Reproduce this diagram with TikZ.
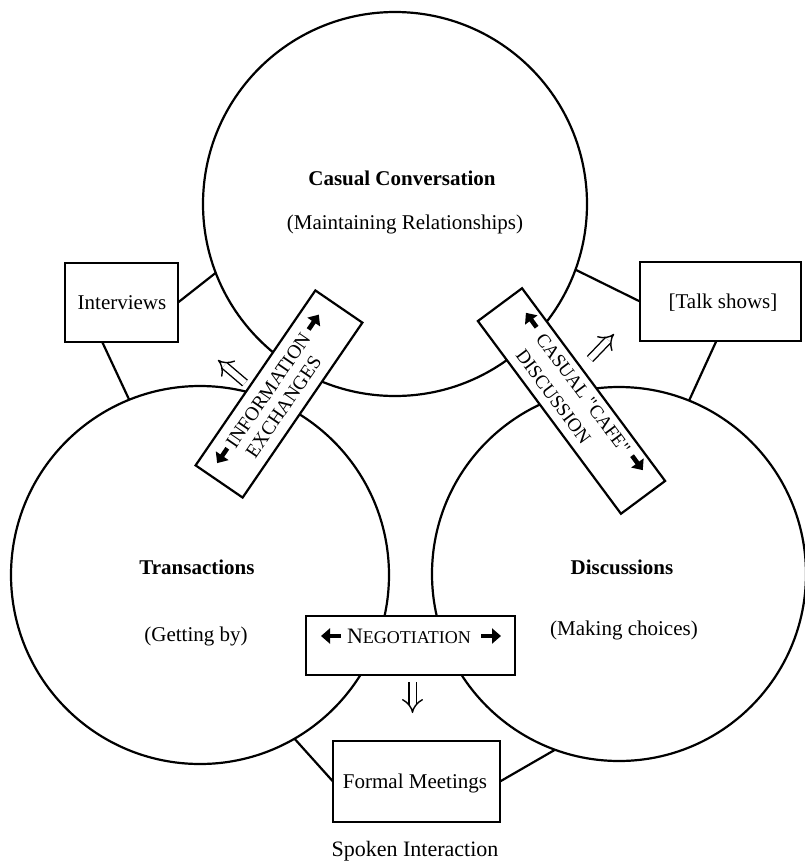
\documentclass[tikz,border=0pt]{standalone}
\usepackage{fontspec}
\setmainfont{Liberation Serif}
\usetikzlibrary{arrows.meta,calc}
\begin{document}
\begin{tikzpicture}[x=1pt,y=1pt,
  circ/.style={draw, circle, line width=2.2pt, inner sep=0pt, outer sep=0pt},
  box/.style={draw, rectangle, line width=2.2pt, fill=white, inner sep=0pt, outer sep=0pt},
  link/.style={line width=2.2pt},
  txt/.style={font=\fontsize{21}{24}\selectfont, inner sep=0pt},
  btxt/.style={font=\fontsize{21}{24}\selectfont\bfseries, inner sep=0pt},
  bantxt/.style={font=\fontsize{19.5}{23}\selectfont, inner sep=0pt},
  dblarrow/.style={double, double distance=6pt, line width=1.4pt, -{Implies}},
  fatarrow/.style={line width=4.6pt, -{Triangle[length=9pt,width=15pt]}},
]
\useasboundingbox (0,0) rectangle (805,-863);

% circles
\node[circ, minimum size=384pt] (topc) at (395,-204) {};
\node[circ, minimum size=378pt] (leftc) at (200,-575) {};
\node[circ, minimum size=374pt] (rightc) at (619,-574) {};

% circle texts
\node[btxt] (cc) at (402,-178) {Casual Conversation};
\node[txt] (mr) at (405,-224) {(Maintaining Relationships)};
\node[btxt] (tr) at (197,-567) {Transactions};
\node[txt] (gb) at (196,-636) {(Getting by)};
\node[btxt] (di) at (622,-567) {Discussions};
\node[txt] (mc) at (624,-630) {(Making choices)};

% outer boxes
\node[box, minimum width=113pt, minimum height=79pt] (interviews) at (121.5,-302.5) {};
\node[txt] (intt) at (122,-303) {Interviews};
\node[box, minimum width=161pt, minimum height=79pt] (talk) at (720.5,-301.5) {};
\node[txt] (talkt) at (723,-303) {[Talk shows]};
\node[box, minimum width=167pt, minimum height=81pt] (formal) at (416.5,-781.5) {};
\node[txt] (formt) at (415,-783) {Formal Meetings};

% links
\draw[link] (interviews.east) -- (topc.201.7);
\draw[link] (interviews.244) -- (leftc.112);
\draw[link] (talk.west) -- (topc.340);
\draw[link] (talk.264) -- (rightc.68);
\draw[link] (formal.west) -- (leftc.-60);
\draw[link] (formal.east) -- (rightc.250);

% information exchanges banner
\begin{scope}[shift={(279,-394)}, rotate=55.6, transform shape]
  \node[box, minimum width=212pt, minimum height=57pt] (info) at (0,0) {};
  \node[bantxt] (info1) at (-3,11) {INFORMATION};
  \node[bantxt] (info2) at (-8,-11) {EXCHANGES};
  \coordinate (infoL1) at (-74,12); \coordinate (infoL2) at (-92,12);
  \coordinate (infoR1) at (70,12);  \coordinate (infoR2) at (88,12);
  \draw[fatarrow] (infoL1) -- (infoL2);
  \draw[fatarrow] (infoR1) -- (infoR2);
\end{scope}

% casual cafe discussion banner
\begin{scope}[shift={(571.5,-401)}, rotate=-53.4, transform shape]
  \node[box, minimum width=240pt, minimum height=55pt] (cafe) at (0,0) {};
  \node[bantxt, font=\fontsize{19}{23}\selectfont] (cafe1) at (1,14) {CASUAL \textquotedbl CAFE\textquotedbl};
  \node[bantxt, font=\fontsize{19}{23}\selectfont] (cafe2) at (-14,-12) {DISCUSSION};
  \coordinate (cafeL1) at (-80,16); \coordinate (cafeL2) at (-98,16);
  \coordinate (cafeR1) at (80,16);  \coordinate (cafeR2) at (98,16);
  \draw[fatarrow] (cafeL1) -- (cafeL2);
  \draw[fatarrow] (cafeR1) -- (cafeR2);
\end{scope}

% negotiation box
\node[box, minimum width=209pt, minimum height=59pt] (neg) at (410.5,-645.5) {};
\node[inner sep=0pt] (negt) at (409,-636) {\fontsize{22}{24}\selectfont N\fontsize{18}{20}\selectfont EGOTIATION};
\coordinate (negL1) at (341,-636); \coordinate (negL2) at (321,-636);
\coordinate (negR1) at (481,-636); \coordinate (negR2) at (501,-636);
\draw[fatarrow] (negL1) -- (negL2);
\draw[fatarrow] (negR1) -- (negR2);

% double arrows
\coordinate (ia1) at (245,-383); \coordinate (ia2) at (218,-360);
\draw[dblarrow] (ia1) -- (ia2);
\coordinate (ca1) at (590,-359); \coordinate (ca2) at (614,-334);
\draw[dblarrow] (ca1) -- (ca2);
\draw[dblarrow] ([xshift=2pt,yshift=-7pt]neg.south) -- ++(0,-31);

% title
\node[font=\fontsize{22}{24}\selectfont, inner sep=0pt] (title) at (415,-851) {Spoken Interaction};
\end{tikzpicture}
\end{document}
